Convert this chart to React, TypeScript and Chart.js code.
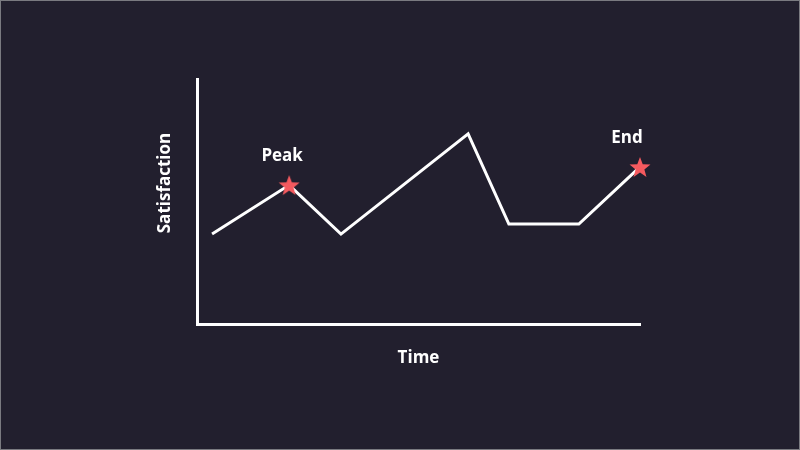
import React, { useRef, useEffect } from "react";
import { Chart, registerables, Plugin } from "chart.js";

Chart.register(...registerables);

// Journey points: time (0-10) and satisfaction (0-10)
const timeValues = [0.34, 2.08, 3.25, 6.12, 7.04, 8.62, 10];
const satisfaction = [3.67, 5.67, 3.67, 7.76, 4.08, 4.08, 6.41];
// Highlighted moments
const highlightLabels = ["Peak", "End"];
const highlightIndex = [1, 6];

const BG = "#221f2e";
const STAR = "#f55a5f";
const FONT = "'Open Sans', 'Noto Sans', sans-serif";

function makeStar(size: number, color: string): HTMLCanvasElement {
  const c = document.createElement("canvas");
  c.width = size;
  c.height = size;
  const ctx = c.getContext("2d")!;
  const cx = size / 2;
  const cy = size / 2 + 1;
  const outer = size / 2;
  const inner = outer * 0.42;
  ctx.beginPath();
  for (let i = 0; i < 10; i++) {
    const r = i % 2 === 0 ? outer : inner;
    const a = -Math.PI / 2 + (i * Math.PI) / 5;
    const x = cx + r * Math.cos(a);
    const y = cy + r * Math.sin(a);
    if (i === 0) ctx.moveTo(x, y);
    else ctx.lineTo(x, y);
  }
  ctx.closePath();
  ctx.fillStyle = color;
  ctx.fill();
  return c;
}

const backgroundPlugin: Plugin = {
  id: "bg",
  beforeDraw(chart) {
    const { ctx, width, height } = chart;
    ctx.save();
    ctx.fillStyle = BG;
    ctx.fillRect(0, 0, width, height);
    ctx.strokeStyle = "#7a7a80";
    ctx.lineWidth = 1;
    ctx.strokeRect(0.5, 0.5, width - 1, height - 1);
    ctx.restore();
  },
};

const textPlugin: Plugin = {
  id: "texts",
  afterDraw(chart) {
    const { ctx, chartArea } = chart;
    const xs = chart.scales.x;
    const ys = chart.scales.y;
    ctx.save();
    ctx.fillStyle = "#ffffff";
    ctx.font = `bold 17px ${FONT}`;
    ctx.textAlign = "center";
    ctx.textBaseline = "middle";
    // axis titles
    ctx.fillText("Time", (chartArea.left + chartArea.right) / 2, 358);
    ctx.save();
    ctx.translate(165, 183);
    ctx.rotate(-Math.PI / 2);
    ctx.fillText("Satisfaction", 0, 0);
    ctx.restore();
    // moment labels
    highlightIndex.forEach((idx, i) => {
      const px = xs.getPixelForValue(timeValues[idx]);
      const py = ys.getPixelForValue(satisfaction[idx]);
      const dx = i === highlightIndex.length - 1 ? -13 : -7;
      ctx.fillText(highlightLabels[i], px + dx, py - 29);
    });
    ctx.restore();
  },
};

const App: React.FC = () => {
  const canvasRef = useRef<HTMLCanvasElement | null>(null);

  useEffect(() => {
    if (!canvasRef.current) return;
    const star = makeStar(22, STAR);
    const lineData = timeValues.map((t, i) => ({ x: t, y: satisfaction[i] }));
    const starData = highlightIndex.map((i) => ({
      x: timeValues[i],
      y: satisfaction[i],
    }));

    const chart = new Chart(canvasRef.current, {
      type: "line",
      data: {
        datasets: [
          {
            data: lineData,
            borderColor: "#ffffff",
            borderWidth: 3,
            borderJoinStyle: "miter",
            pointRadius: 0,
            tension: 0,
            order: 2,
            clip: false as any,
          },
          {
            data: starData,
            showLine: false,
            pointStyle: star,
            pointRadius: 11,
            pointBorderWidth: 0,
            order: 1,
            clip: false as any,
          },
        ],
      },
      options: {
        animation: false,
        responsive: false,
        devicePixelRatio: 1,
        layout: { padding: { left: 197, right: 160, top: 79, bottom: 126 } },
        plugins: {
          legend: { display: false },
          tooltip: { enabled: false },
        },
        scales: {
          x: {
            type: "linear",
            min: 0,
            max: 10,
            grid: { display: false, drawTicks: false },
            ticks: { display: false },
            border: { color: "#ffffff", width: 3 },
            afterFit: (s: any) => {
              s.height = 0;
            },
          },
          y: {
            type: "linear",
            min: 0,
            max: 10,
            grid: { display: false, drawTicks: false },
            ticks: { display: false },
            border: { color: "#ffffff", width: 3 },
            afterFit: (s: any) => {
              s.width = 0;
            },
          },
        },
      },
      plugins: [backgroundPlugin, textPlugin],
    });

    return () => chart.destroy();
  }, []);

  return (
    <div style={{ position: "fixed", left: 0, top: 0, width: 800, height: 450 }}>
      <canvas ref={canvasRef} width={800} height={450} />
    </div>
  );
};

export default App;
